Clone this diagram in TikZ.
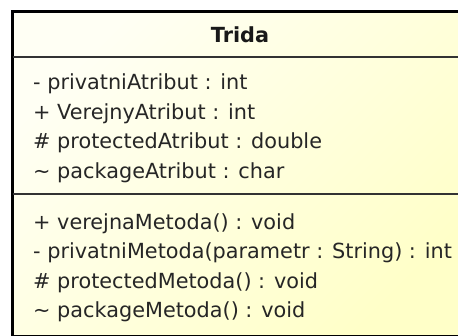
\documentclass[tikz,border=0pt]{standalone}
\usepackage{fontspec}
\setmainfont{DejaVu Sans}
\usepackage{tikz}
\usetikzlibrary{positioning}
\definecolor{classpale}{RGB}{255,255,244}
\definecolor{classyellow}{RGB}{255,255,200}
\newcommand\umlfont{\fontsize{20.8pt}{25pt}\selectfont}

\begin{document}
\begin{tikzpicture}[x=1pt, y=1pt, font=\umlfont, node distance=9pt, member/.style={inner sep=0pt, text height=15pt, text depth=5pt, text=black!85}, title/.style={inner sep=0pt, font=\umlfont\bfseries, text=black!90}, sep/.style={line width=1.5pt, black!80}]
\useasboundingbox (0,0) rectangle (458,-336);
\clip (0,0) rectangle (458,-336);
% class box, cut off on the right and at the bottom
\node[draw, line width=3pt, outer sep=0pt, inner sep=0pt, top color=classpale, bottom color=classyellow, shading angle=45, minimum width=455.5pt, minimum height=325.5pt, anchor=north west] (cls) at (12.5,-11.5) {};
\coordinate (hdr) at (0,-57);
\coordinate (mid) at (0,-194);
\draw[sep] (cls.west |- hdr) -- (cls.east |- hdr);
\draw[sep] (cls.west |- mid) -- (cls.east |- mid);
\node[title, anchor=base] (name) at (240,-43) {Trida};
% attributes
\node[member, anchor=base west] (a1) at (33,-90) {- privatniAtribut : int};
\node[member, below=of a1.south west, anchor=north west] (a2) {+ VerejnyAtribut : int};
\node[member, below=of a2.south west, anchor=north west] (a3) {\# protectedAtribut : double};
\node[member, below=of a3.south west, anchor=north west] (a4) {\textasciitilde\ packageAtribut : char};
% operations
\node[member, below=31pt of a4.south west, anchor=north west] (m1) {+ verejnaMetoda() : void};
\node[member, below=of m1.south west, anchor=north west] (m2) {- privatniMetoda(parametr : String) : int};
\node[member, below=of m2.south west, anchor=north west] (m3) {\# protectedMetoda() : void};
\node[member, below=of m3.south west, anchor=north west] (m4) {\textasciitilde\ packageMetoda() : void};
\end{tikzpicture}
\end{document}
